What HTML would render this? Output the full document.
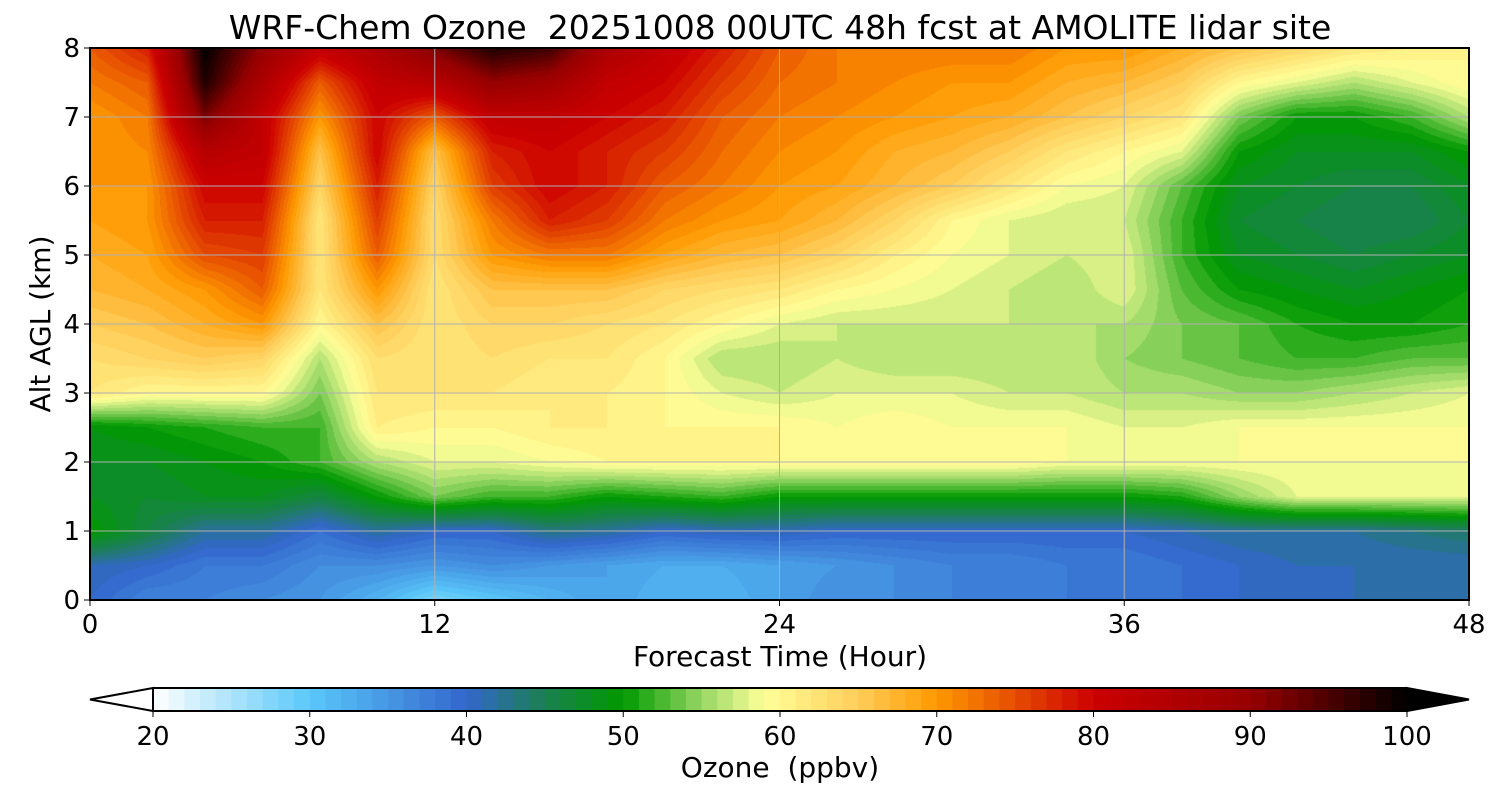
<!DOCTYPE html>
<html><head><meta charset="utf-8"><style>
body{margin:0;background:#fff;width:1500px;height:800px;overflow:hidden;font-family:"DejaVu Sans","Liberation Sans",sans-serif}
#plot{position:absolute;left:90px;top:48px}
svg{position:absolute;left:0;top:0}
text{white-space:pre;font-family:"DejaVu Sans","Liberation Sans",sans-serif}
</style></head><body>
<canvas id="plot" width="1379" height="552"></canvas>
<svg id="s" width="1500" height="800"></svg>
<script>
const hours=[0,2,4,6,8,10,12,14,16,18,20,22,24,26,28,30,32,34,36,38,40,42,44,46,48];
const alts=[8,7.5,7,6.5,6,5.5,5,4.5,4,3.5,3,2.5,2,1.5,1,0.5,0];
const ozone=[
[74,78,100,90,82,86,92,98,96,86,82,78,74,72,72,72,72,70,70,68,66,64,62,61,60],
[72,74,98,86,74,82,84,90,88,82,80,76,73,72,71,70,70,68,67,65,60,58,56,58,60],
[70,72,92,82,70,80,74,82,82,80,78,74,72,71,70,69,68,66,64,62,54,50,50,52,56],
[70,71,84,82,66,80,66,78,80,78,76,73,71,70,68,67,65,62,60,58,50,48,48,48,50],
[70,70,80,80,64,78,64,76,80,78,74,72,70,69,67,65,62,59,58,53,48,47,46,46,48],
[69,70,78,78,62,76,63,72,78,76,72,70,69,67,64,60,58,57,57,52,47,46,45,45,47],
[68,69,75,76,62,74,63,70,72,72,69,67,66,64,61,59,58,57,58,52,48,47,46,47,48],
[67,68,70,74,62,70,62,66,66,66,64,63,62,60,59,58,57,56,58,53,50,49,48,49,50],
[65,66,68,70,60,66,62,64,64,63,62,60,58,57,57,57,57,56,56,54,53,51,50,50,51],
[63,64,65,64,56,63,62,63,62,62,60,56,56,57,56,56,56,57,55,54,53,52,52,53,53],
[62,60,60,60,54,62,62,62,61,61,60,58,57,58,58,58,57,57,56,56,55,55,56,57,58],
[49,50,51,52,52,61,60,60,61,61,60,60,60,59,60,59,59,59,58,58,59,59,59,59,59],
[48,48,49,50,52,56,58,58,59,60,60,60,60,60,60,60,60,59,59,59,59,59,59,59,59],
[48,47,48,48,46,50,54,52,52,50,51,52,50,50,50,50,50,50,50,51,55,58,58,58,58],
[50,46,42,42,39,42,40,40,43,42,40,41,41,40,40,40,40,40,40,41,42,42,42,43,44],
[41,40,38,38,36,36,35,36,35,34,33,33,34,35,36,37,37,38,38,39,40,41,41,41,41],
[40,37,37,36,35,32,28,30,32,34,32,32,34,36,36,37,37,38,38,39,40,40,41,41,42]];
const xTicks=[0,12,24,36,48];
const yTicks=[0,1,2,3,4,5,6,7,8];
const cbTicks=[20,30,40,50,60,70,80,90,100];
const stopV=[20,30,40,45,50,55,59,65,70,80,90,100];
const stopC=[[255,255,255],[90,200,250],[51,102,204],[26,128,80],[0,153,0],[150,215,100],[255,255,153],[255,205,90],[255,153,0],[204,0,0],[150,0,0],[0,0,0]];
function cmap(v){v=Math.floor(v)+0.5;v=Math.max(20,Math.min(99.9,v));
 for(let i=0;i<stopV.length-1;i++){if(v<=stopV[i+1]){const t=(v-stopV[i])/(stopV[i+1]-stopV[i]);return stopC[i].map((c,k)=>Math.round(c+(stopC[i+1][k]-c)*t));}}return [0,0,0];}
const X0=90,X1=1469,Y0=600,Y1=48;
const xs=h=>X0+(h/48)*(X1-X0), ys=a=>Y0-(a/8)*(Y0-Y1);
const cv=document.getElementById('plot'),ctx=cv.getContext('2d'),img=ctx.createImageData(1379,552);
function interp(arr,v){for(let i=0;i<arr.length-1;i++){const a=arr[i],b=arr[i+1];if((v-a)*(v-b)<=0)return [i,(v-a)/(b-a)];}return [arr.length-2,1];}
for(let py=0;py<552;py++){const alt=8-(py+0.5)/552*8;const [ri,rt]=interp(alts,alt);
 for(let px=0;px<1379;px++){const h=(px+0.5)/1379*48;const [ci,ct]=interp(hours,h);
  const v=(ozone[ri][ci]*(1-ct)+ozone[ri][ci+1]*ct)*(1-rt)+(ozone[ri+1][ci]*(1-ct)+ozone[ri+1][ci+1]*ct)*rt;
  const c=cmap(v),o=(py*1379+px)*4;img.data[o]=c[0];img.data[o+1]=c[1];img.data[o+2]=c[2];img.data[o+3]=255;}}
ctx.putImageData(img,0,0);
const s=document.getElementById('s'),NS='http://www.w3.org/2000/svg';
function el(t,a,txt){const e=document.createElementNS(NS,t);for(const k in a)e.setAttribute(k,a[k]);if(txt!==undefined)e.textContent=txt;s.appendChild(e);return e;}
for(const h of xTicks){const l=el('line',{x1:xs(h),x2:xs(h),y1:Y1,y2:Y0,stroke:'#b0b0b0','stroke-width':1});

const t=el('text',{x:xs(h),y:633,'font-size':26,'text-anchor':'middle'},String(h));

el('line',{x1:xs(h),x2:xs(h),y1:Y0,y2:Y0+6,stroke:'#000'});}
for(const a of yTicks){const l=el('line',{x1:X0,x2:X1,y1:ys(a),y2:ys(a),stroke:'#b0b0b0','stroke-width':1});

const t=el('text',{x:80,y:ys(a)+9,'font-size':26,'text-anchor':'end'},String(a));

el('line',{x1:X0-6,x2:X0,y1:ys(a),y2:ys(a),stroke:'#000'});}
const fr=el('rect',{x:X0,y:Y1,width:X1-X0,height:Y0-Y1,fill:'none',stroke:'#000','stroke-width':2});

const ti=el('text',{x:780,y:39,'font-size':33,'text-anchor':'middle'},'WRF-Chem Ozone  20251008 00UTC 48h fcst at AMOLITE lidar site');

const xl=el('text',{x:780,y:666,'font-size':28,'text-anchor':'middle'},'Forecast Time (Hour)');

const yl=el('text',{x:50,y:324,'font-size':28,'text-anchor':'middle',transform:'rotate(-90 50 324)'},'Alt AGL (km)');

const C0=153,C1=1407,CT=688,CB=711,cx=v=>C0+(v-20)/80*(C1-C0);
for(let v=20;v<100;v++){const c=cmap(v);const r=el('rect',{x:cx(v),y:CT,width:cx(v+1)-cx(v)+0.6,height:CB-CT,fill:`rgb(${c})`});
}
const lt=el('polygon',{points:`${C0},${CT} 90,${(CT+CB)/2} ${C0},${CB}`,fill:'#fff',stroke:'#000','stroke-width':2});

const rt=el('polygon',{points:`${C1},${CT} 1469,${(CT+CB)/2} ${C1},${CB}`,fill:'#000',stroke:'#000','stroke-width':2});

el('line',{x1:C0,x2:C1,y1:CT,y2:CT,stroke:'#000','stroke-width':2});
el('line',{x1:C0,x2:C1,y1:CB,y2:CB,stroke:'#000','stroke-width':2});
for(const v of cbTicks){el('line',{x1:cx(v),x2:cx(v),y1:CB,y2:CB+6,stroke:'#000'});
const t=el('text',{x:cx(v),y:745,'font-size':26,'text-anchor':'middle'},String(v));
}
const cl=el('text',{x:780,y:777,'font-size':28,'text-anchor':'middle'},'Ozone  (ppbv)');

</script></body></html>
